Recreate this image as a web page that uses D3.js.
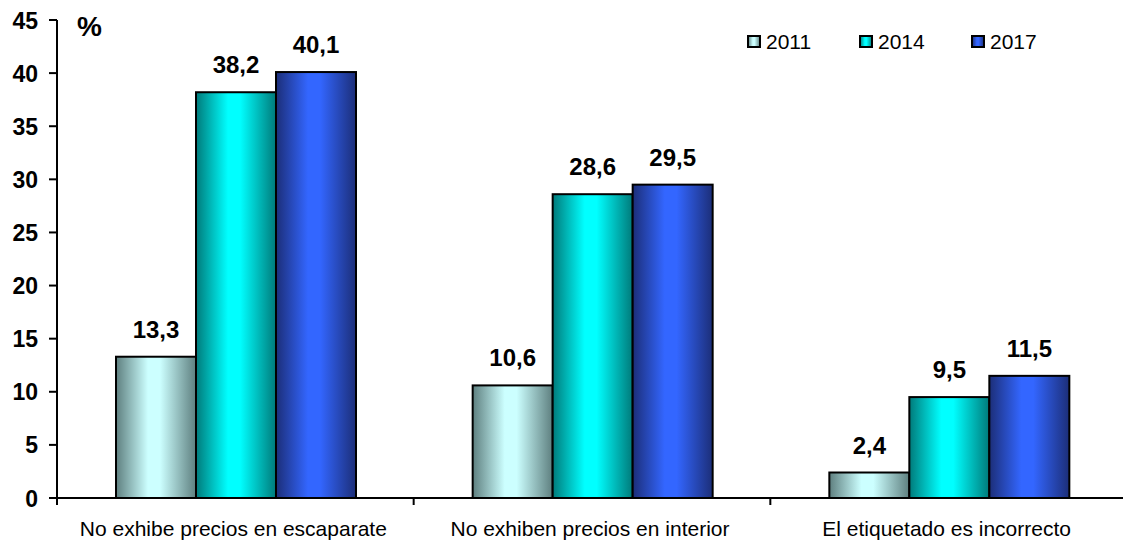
<!DOCTYPE html>
<html>
<head>
<meta charset="utf-8">
<script src="https://cdn.jsdelivr.net/npm/d3@7"></script>
<style>
  body { margin: 0; background: #fff; }
  svg { display: block; font-family: Arial, "Liberation Sans", sans-serif; }
</style>
</head>
<body>
<svg id="chart" width="1123" height="542"></svg>
<script>
const categories = ["No exhibe precios en escaparate", "No exhiben precios en interior", "El etiquetado es incorrecto"];
const years = ["2011", "2014", "2017"];
const values2011 = [13.3, 10.6, 2.4];
const values2014 = [38.2, 28.6, 9.5];
const values2017 = [40.1, 29.5, 11.5];
const yTicks = [0, 5, 10, 15, 20, 25, 30, 35, 40, 45];

const series = [values2011, values2014, values2017];
const colors = [
    {edge: "#5e7f7f", mid: "#ccffff"},
    {edge: "#007a7a", mid: "#00ffff"},
    {edge: "#1c2e78", mid: "#3366ff"}
];

const svg = d3.select("#chart");
const x0 = 57, x1 = 1127, yTop = 20, yBase = 498;

const x = d3.scaleBand().domain(categories).range([x0, x1]);
const xs = d3.scaleBand().domain(years).range([59, 59 + 240]);
const y = d3.scaleLinear().domain([0, 45]).range([yBase, yTop]);

// gradients
var defs = svg.append("defs");
colors.forEach(function(c, i) {
    var g = defs.append("linearGradient")
        .attr("id", "grad" + i)
        .attr("x1", "0").attr("x2", "1").attr("y1", "0").attr("y2", "0");
    g.append("stop").attr("offset", "0%").attr("stop-color", c.edge);
    g.append("stop").attr("offset", "40%").attr("stop-color", c.mid);
    g.append("stop").attr("offset", "55%").attr("stop-color", c.mid);
    g.append("stop").attr("offset", "100%").attr("stop-color", c.edge);
});

// bars
series.forEach(function(vals, i) {
    var grp = svg.append("g");
    grp.selectAll("rect")
        .data(vals)
        .enter().append("rect")
            .attr("x", (d, j) => x(categories[j]) + xs(years[i]))
            .attr("y", d => y(d))
            .attr("width", xs.bandwidth())
            .attr("height", d => yBase - y(d))
            .attr("fill", "url(#grad" + i + ")")
            .attr("stroke", "#000")
            .attr("stroke-width", 2);

    grp.selectAll("text")
        .data(vals)
        .enter().append("text")
            .attr("x", (d, j) => x(categories[j]) + xs(years[i]) + xs.bandwidth() / 2)
            .attr("y", d => y(d) - 19)
            .attr("text-anchor", "middle")
            .attr("font-weight", "bold")
            .attr("font-size", "24px")
            .text(d => d.toFixed(1).replace(".", ","));
});

// y axis
svg.append("line")
    .attr("x1", x0).attr("x2", x0)
    .attr("y1", yTop).attr("y2", yBase + 7)
    .attr("stroke", "#000").attr("stroke-width", 2);

svg.selectAll(".ytick")
    .data(yTicks)
    .enter().append("line")
        .attr("class", "ytick")
        .attr("x1", x0 - 8).attr("x2", x0)
        .attr("y1", d => y(d)).attr("y2", d => y(d))
        .attr("stroke", "#000").attr("stroke-width", 2);

svg.selectAll(".ylabel")
    .data(yTicks)
    .enter().append("text")
        .attr("class", "ylabel")
        .attr("x", 38)
        .attr("y", d => y(d) + 8.5)
        .attr("text-anchor", "end")
        .attr("font-weight", "bold")
        .attr("font-size", "23px")
        .text(d => d);

svg.append("text")
    .attr("x", 77).attr("y", 36)
    .attr("font-weight", "bold")
    .attr("font-size", "28px")
    .text("%");

// x axis
svg.append("line")
    .attr("x1", x0 - 8).attr("x2", 1123)
    .attr("y1", yBase).attr("y2", yBase)
    .attr("stroke", "#000").attr("stroke-width", 2);

svg.selectAll(".xtick")
    .data(categories.slice(1))
    .enter().append("line")
        .attr("class", "xtick")
        .attr("x1", d => x(d)).attr("x2", d => x(d))
        .attr("y1", yBase).attr("y2", yBase + 7)
        .attr("stroke", "#000").attr("stroke-width", 2);

svg.selectAll(".xlabel")
    .data(categories)
    .enter().append("text")
        .attr("class", "xlabel")
        .attr("x", d => x(d) + x.bandwidth() / 2 - 2)
        .attr("y", 536)
        .attr("text-anchor", "middle")
        .attr("font-size", "21px")
        .text(d => d);

// legend
var legend = svg.selectAll(".legend")
    .data(years)
    .enter().append("g")
        .attr("class", "legend")
        .attr("transform", (d, i) => "translate(" + (748 + i * 112) + ",41)");

legend.append("rect")
    .attr("x", 0).attr("y", -5)
    .attr("width", 12).attr("height", 11)
    .attr("fill", (d, i) => "url(#grad" + i + ")")
    .attr("stroke", "#000").attr("stroke-width", 2);

legend.append("text")
    .attr("x", 18).attr("y", 7.5)
    .attr("font-size", "21px")
    .text(d => d);
</script>
</body>
</html>
